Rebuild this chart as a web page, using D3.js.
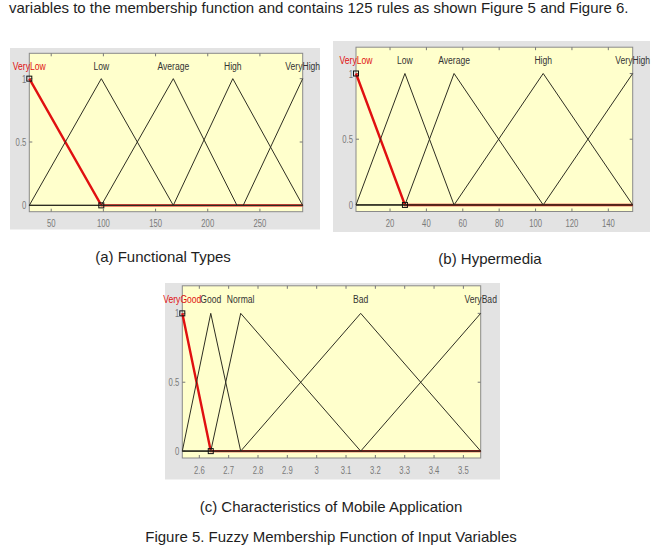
<!DOCTYPE html>
<html>
<head>
<meta charset="utf-8">
<script src="https://cdn.jsdelivr.net/npm/d3@7"></script>
<style>
  body { margin: 0; background: #fff; }
  text { font-family: "Liberation Sans", Arial, sans-serif; }
</style>
</head>
<body>
<div id="fig"></div>
<script>
/* Data */
// (a) Functional Types
const aDomain = [29, 291];
const aTicks = [50, 100, 150, 200, 250];
const aNames = ["VeryLow", "Low", "Average", "High", "VeryHigh"];
const aParams = [[29, 29, 98], [29, 98, 167], [98, 167, 228], [167, 224, 291], [234, 291, 291]];

// (b) Hypermedia
const bDomain = [1.3, 153.4];
const bTicks = [20, 40, 60, 80, 100, 120, 140];
const bNames = ["VeryLow", "Low", "Average", "High", "VeryHigh"];
const bParams = [[1.3, 1.3, 28.2], [1.3, 28.2, 55.2], [28.2, 55.2, 104.2], [55.2, 104.2, 153.4], [104.2, 153.4, 153.4]];

// (c) Characteristics of Mobile Application
const cDomain = [2.542, 3.559];
const cTicks = [2.6, 2.7, 2.8, 2.9, 3, 3.1, 3.2, 3.3, 3.4, 3.5];
const cNames = ["VeryGood", "Good", "Normal", "Bad", "VeryBad"];
const cParams = [[2.542, 2.542, 2.639], [2.542, 2.639, 2.741], [2.639, 2.741, 3.15], [2.741, 3.15, 3.559], [3.15, 3.559, 3.559]];

const yTicks = [0, 0.5, 1];

const W = 662, H = 546;
const svg = d3.select("#fig").append("svg")
  .attr("width", W).attr("height", H);

svg.append("rect").attr("width", W).attr("height", H).attr("fill", "#fff");

// Condensed text helper (the screenshot fonts are squeezed sideways)
function narrowText(g, x, y, str, opts) {
  return g.append("text")
    .attr("transform", "translate(" + x + "," + y + ") scale(" + opts.sx + ",1)")
    .attr("text-anchor", opts.anchor || "middle")
    .attr("dominant-baseline", "central")
    .attr("font-size", opts.size)
    .attr("fill", opts.color)
    .text(str);
}

function trimf(x, p) {
  const [a, b, c] = p;
  if (x < a || x > c) return 0;
  if (x <= b) return a === b ? 1 : (x - a) / (b - a);
  return c === b ? 1 : (c - x) / (c - b);
}

function drawPanel(box, domain, ticks, names, params) {
  const g = svg.append("g");

  g.append("rect")
    .attr("x", box.gx0).attr("y", box.gy0)
    .attr("width", box.gx1 - box.gx0).attr("height", box.gy1 - box.gy0)
    .attr("fill", "#e3e3e3");

  const x = d3.scaleLinear().domain(domain).range([box.px0, box.px1]);
  const y = d3.scaleLinear().domain([-0.05, 1.2]).range([box.py1, box.py0]);

  g.append("rect")
    .attr("x", box.px0).attr("y", box.py0)
    .attr("width", box.px1 - box.px0).attr("height", box.py1 - box.py0)
    .attr("fill", "#ffffcc")
    .attr("stroke", "#8a8a8a").attr("stroke-width", 1);

  // tick marks inside the box
  ticks.forEach(function(t) {
    g.append("line").attr("x1", x(t)).attr("x2", x(t))
      .attr("y1", box.py1).attr("y2", box.py1 - 3).attr("stroke", "#777");
    g.append("line").attr("x1", x(t)).attr("x2", x(t))
      .attr("y1", box.py0).attr("y2", box.py0 + 3).attr("stroke", "#777");
    narrowText(g, x(t), box.py1 + 11.5, d3.format("")(t),
      {sx: 0.7, size: 11, color: "#7a7a7a"});
  });
  yTicks.forEach(function(t) {
    g.append("line").attr("x1", box.px0).attr("x2", box.px0 + 3)
      .attr("y1", y(t)).attr("y2", y(t)).attr("stroke", "#777");
    g.append("line").attr("x1", box.px1).attr("x2", box.px1 - 3)
      .attr("y1", y(t)).attr("y2", y(t)).attr("stroke", "#777");
    narrowText(g, box.px0 - 3, y(t), d3.format("")(t),
      {sx: 0.7, size: 11, color: "#7a7a7a", anchor: "end"});
  });

  const line = d3.line().x(d => x(d[0])).y(d => y(d[1]));
  function points(p) {
    const xs = Array.from(new Set([domain[0], p[0], p[1], p[2], domain[1]])).sort((u, v) => u - v);
    return xs.map(v => [v, trimf(v, p)]);
  }

  // selected MF in red, under the others
  g.append("path").attr("d", line(points(params[0])))
    .attr("fill", "none").attr("stroke", "#e01010").attr("stroke-width", 2.4);

  params.slice(1).forEach(function(p) {
    g.append("path").attr("d", line(points(p)))
      .attr("fill", "none").attr("stroke", "#2e2e22").attr("stroke-width", 1);
  });

  // vertex markers of the selected MF
  [[params[0][1], 1], [params[0][2], 0]].forEach(function(d) {
    g.append("rect")
      .attr("x", x(d[0]) - 2.5).attr("y", y(d[1]) - 2.5)
      .attr("width", 5).attr("height", 5)
      .attr("fill", "none").attr("stroke", "#111").attr("stroke-width", 1);
  });

  // MF names above the peaks
  names.forEach(function(n, i) {
    narrowText(g, x(params[i][1]), y(1.1), n,
      {sx: 0.78, size: 11, color: i === 0 ? "#e01010" : "#333"});
  });
}

drawPanel({gx0: 10, gy0: 48, gx1: 320, gy1: 229.5, px0: 29.3, px1: 302.7, py0: 53.3, py1: 211.7},
  aDomain, aTicks, aNames, aParams);
drawPanel({gx0: 333, gy0: 41, gx1: 650, gy1: 232, px0: 356, px1: 632.7, py0: 47.2, py1: 211.5},
  bDomain, bTicks, bNames, bParams);
drawPanel({gx0: 165, gy0: 283, gx1: 500, gy1: 479.5, px0: 182.3, px1: 480.7, py0: 285.8, py1: 458},
  cDomain, cTicks, cNames, cParams);

// Texts of the page
function caption(x, y, str, anchor) {
  svg.append("text").attr("x", x).attr("y", y)
    .attr("text-anchor", anchor || "middle")
    .attr("font-size", 15).attr("fill", "#1e1e1e")
    .text(str);
}
caption(9, 12.5, "variables to the membership function and contains 125 rules as shown Figure 5 and Figure 6.", "start");
caption(163, 261.5, "(a) Functional Types");
caption(490, 263.5, "(b) Hypermedia");
caption(331, 512, "(c) Characteristics of Mobile Application");
caption(331, 541.5, "Figure 5. Fuzzy Membership Function of Input Variables");
</script>
</body>
</html>
